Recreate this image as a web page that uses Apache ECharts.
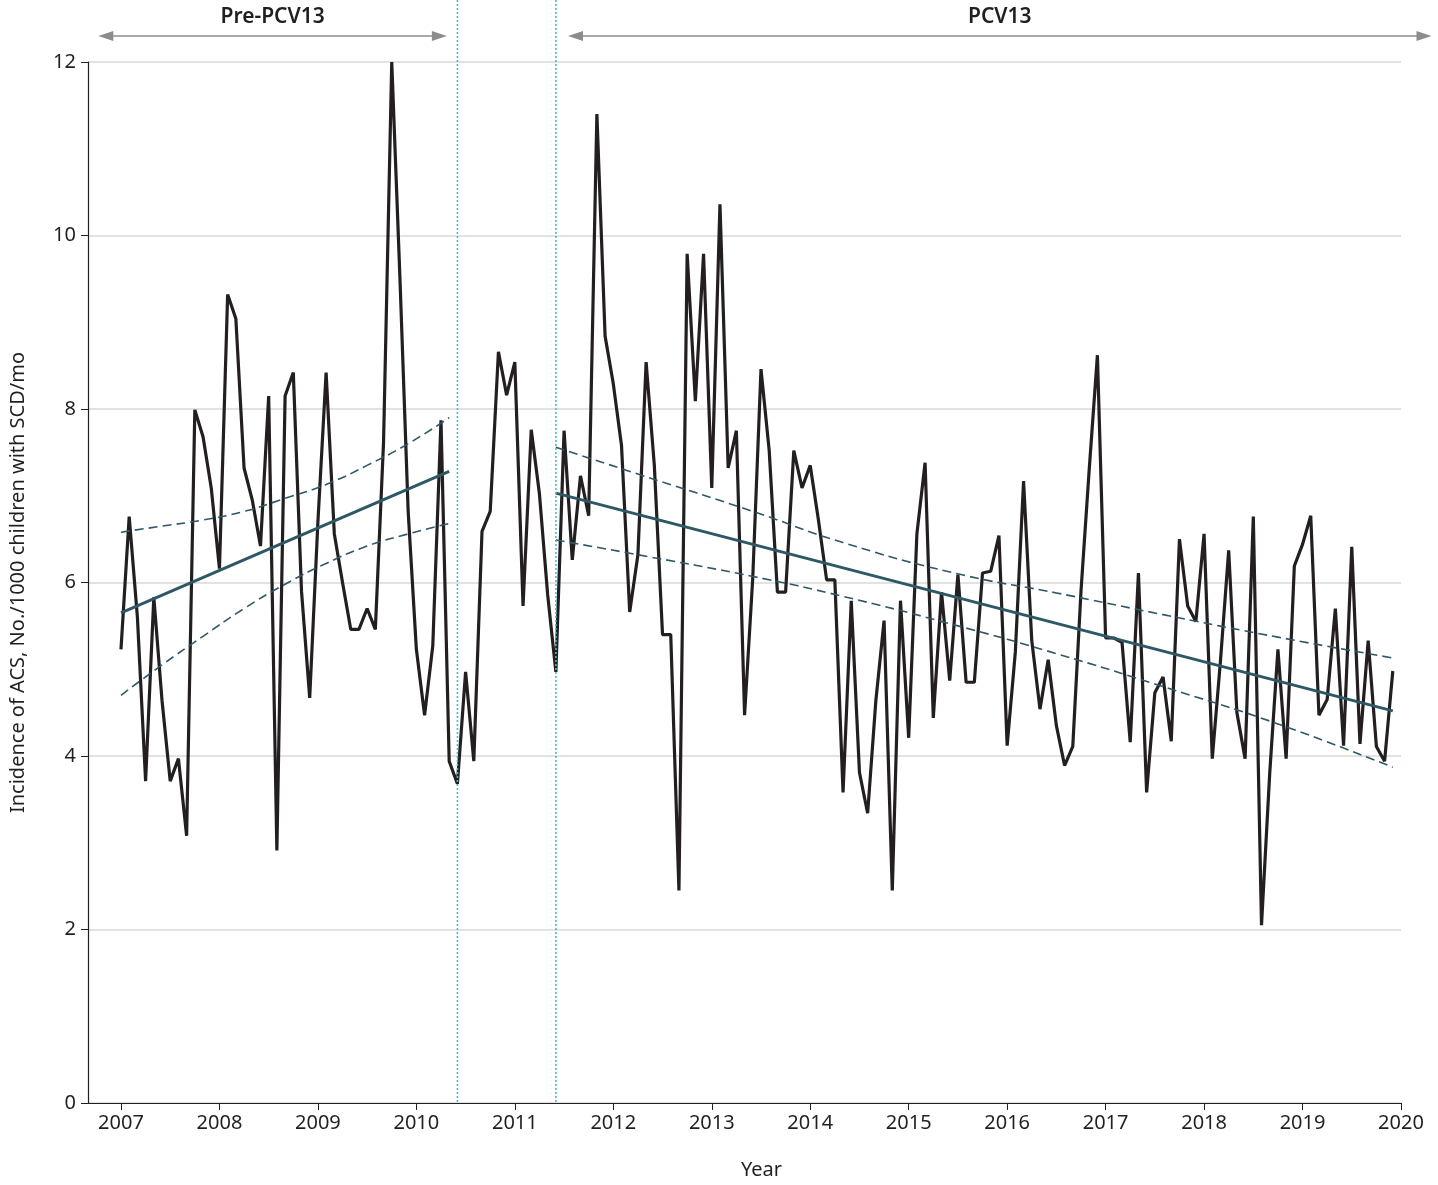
<!DOCTYPE html>
<html>
<head>
<meta charset="utf-8">
<script src="https://cdn.jsdelivr.net/npm/echarts@6/dist/echarts.min.js"></script>
<style>
  html, body { margin: 0; background: #fff; }
  #main { width: 1438px; height: 1185px; }
</style>
</head>
<body>
<div id="main"></div>
<script>
// monthly series, Jan 2007 .. Dec 2019
var startYear = 2007;
var incidence = [
  5.23, 6.76, 5.6, 3.71, 5.83, 4.64, 3.71, 3.97, 3.08, 7.99, 7.68, 7.09,
  6.16, 9.32, 9.04, 7.32, 6.95, 6.42, 8.15, 2.91, 8.15, 8.42, 5.9, 4.67,
  6.7, 8.42, 6.56, 6.0, 5.46, 5.46, 5.70, 5.46, 7.62, 12.0, 9.5, 6.82,
  5.23, 4.47, 5.27, 7.87, 3.94, 3.68, 4.97, 3.94, 6.59, 6.82, 8.66, 8.16,
  8.54, 5.73, 7.76, 7.02, 5.86, 4.97, 7.75, 6.26, 7.23, 6.77, 11.40, 8.84,
  8.29, 7.58, 5.66, 6.32, 8.54, 7.35, 5.40, 5.40, 2.45, 9.79, 8.09, 9.79,
  7.09, 10.36, 7.32, 7.75, 4.47, 6.06, 8.46, 7.52, 5.89, 5.89, 7.52, 7.09,
  7.35, 6.72, 6.03, 6.03, 3.58, 5.79, 3.81, 3.34, 4.64, 5.56, 2.45, 5.79,
  4.21, 6.56, 7.38, 4.44, 5.89, 4.87, 6.09, 4.85, 4.85, 6.11, 6.13, 6.54,
  4.12, 5.20, 7.17, 5.33, 4.54, 5.11, 4.35, 3.89, 4.11, 5.9, 7.3, 8.62,
  5.36, 5.36, 5.31, 4.16, 6.11, 3.58, 4.73, 4.91, 4.17, 6.50, 5.73, 5.55,
  6.56, 3.97, 5.10, 6.37, 4.50, 3.97, 6.76, 2.05, 3.8, 5.23, 3.97, 6.19,
  6.44, 6.77, 4.47, 4.65, 5.70, 4.12, 6.41, 4.14, 5.33, 4.11, 3.94, 4.98
];

// fitted trends (month index, value)
var preTrendMonths = [0, 40];
var preTrend = [5.65, 7.28];
var postTrendMonths = [53, 155];
var postTrend = [7.03, 4.52];

// confidence bands
var preCiMonths = [0, 5, 10, 15, 20, 25, 30, 35, 40];
var preUpper = [6.58, 6.65, 6.72, 6.82, 6.97, 7.13, 7.35, 7.6, 7.9];
var preLower = [4.70, 5.05, 5.38, 5.70, 5.98, 6.22, 6.42, 6.56, 6.68];
var postCiMonths = [53, 63, 77, 88, 102, 114, 127, 141, 155];
var postUpper = [7.56, 7.25, 6.82, 6.46, 6.10, 5.88, 5.63, 5.37, 5.13];
var postLower = [6.49, 6.32, 6.07, 5.84, 5.50, 5.18, 4.80, 4.37, 3.87];

// period markers / top labels
var yearTicks = [2007, 2008, 2009, 2010, 2011, 2012, 2013, 2014, 2015, 2016, 2017, 2018, 2019, 2020];
var breakYears = [2010.417, 2011.417];
var periodNames = ['Pre-PCV13', 'PCV13'];
var periodRanges = [[2006.77, 2010.31], [2011.54, 2020.31]];

function toYear(m) { return startYear + m / 12; }
function pairs(months, vals) {
  return months.map(function (m, i) { return [toYear(m), vals[i]]; });
}

var trendColor = '#2e5865';
var myChart = echarts.init(document.getElementById('main'));

var option = {
  animation: false,
  backgroundColor: '#fff',
  textStyle: { fontFamily: 'Noto Sans' },
  grid: { left: 88, right: 37, top: 62, bottom: 82 },
  xAxis: {
    type: 'value',
    min: 2006.665,
    max: 2020,
    name: 'Year',
    nameLocation: 'middle',
    nameGap: 57,
    nameTextStyle: { fontSize: 20, color: '#231f20', padding: [0, 0, 0, 34] },
    axisLine: { lineStyle: { color: '#231f20', width: 1.2 } },
    axisTick: { customValues: yearTicks, length: 7, lineStyle: { color: '#231f20' } },
    axisLabel: {
      customValues: yearTicks, fontSize: 20, color: '#231f20', margin: 10,
      formatter: function (v) { return String(Math.round(v)); }
    },
    splitLine: { show: false }
  },
  yAxis: {
    type: 'value',
    min: 0,
    max: 12,
    interval: 2,
    name: 'Incidence of ACS, No./1000 children with SCD/mo',
    nameLocation: 'middle',
    nameGap: 60,
    nameTextStyle: { fontSize: 20, color: '#231f20' },
    axisLine: { show: true, lineStyle: { color: '#231f20', width: 1.2 } },
    axisTick: { show: true, length: 7, lineStyle: { color: '#231f20' } },
    axisLabel: { fontSize: 20, color: '#231f20', margin: 12 },
    splitLine: { lineStyle: { color: '#d9d9d9', width: 1.5 } }
  },
  series: [
    {
      type: 'line',
      showSymbol: false,
      data: incidence.map(function (v, i) { return [toYear(i), v]; }),
      lineStyle: { color: '#231f20', width: 3.2 },
      z: 2
    },
    {
      type: 'line', showSymbol: false,
      data: pairs(preTrendMonths, preTrend),
      lineStyle: { color: trendColor, width: 3 }, z: 3
    },
    {
      type: 'line', showSymbol: false,
      data: pairs(postTrendMonths, postTrend),
      lineStyle: { color: trendColor, width: 3 }, z: 3
    },
    {
      type: 'line', showSymbol: false, smooth: true,
      data: pairs(preCiMonths, preUpper),
      lineStyle: { color: trendColor, width: 1.6, type: [9, 5] }, z: 3
    },
    {
      type: 'line', showSymbol: false, smooth: true,
      data: pairs(preCiMonths, preLower),
      lineStyle: { color: trendColor, width: 1.6, type: [9, 5] }, z: 3
    },
    {
      type: 'line', showSymbol: false, smooth: true,
      data: pairs(postCiMonths, postUpper),
      lineStyle: { color: trendColor, width: 1.6, type: [9, 5] }, z: 3
    },
    {
      type: 'line', showSymbol: false, smooth: true,
      data: pairs(postCiMonths, postLower),
      lineStyle: { color: trendColor, width: 1.6, type: [9, 5] }, z: 3
    }
  ]
};
myChart.setOption(option);

// annotations above the plot
var bottomY = myChart.convertToPixel({ xAxisIndex: 0, yAxisIndex: 0 }, [2007, 0])[1];
var arrowY = 36, labelY = 17, grey = '#8c8c8c';
var els = [];
breakYears.forEach(function (yr) {
  var x = myChart.convertToPixel({ xAxisIndex: 0, yAxisIndex: 0 }, [yr, 0])[0];
  els.push({
    type: 'line', z: 10,
    shape: { x1: x, y1: 0, x2: x, y2: bottomY },
    style: { stroke: '#45bcd4', lineWidth: 1.6, lineDash: [2, 2] }
  });
});
periodRanges.forEach(function (r, i) {
  var x1 = myChart.convertToPixel({ xAxisIndex: 0, yAxisIndex: 0 }, [r[0], 0])[0];
  var x2 = myChart.convertToPixel({ xAxisIndex: 0, yAxisIndex: 0 }, [r[1], 0])[0];
  els.push({
    type: 'line', z: 10,
    shape: { x1: x1 + 4, y1: arrowY, x2: x2 - 4, y2: arrowY },
    style: { stroke: grey, lineWidth: 1.5 }
  });
  els.push({
    type: 'polygon', z: 10,
    shape: { points: [[x1, arrowY], [x1 + 15, arrowY - 5], [x1 + 15, arrowY + 5]] },
    style: { fill: grey }
  });
  els.push({
    type: 'polygon', z: 10,
    shape: { points: [[x2, arrowY], [x2 - 15, arrowY - 5], [x2 - 15, arrowY + 5]] },
    style: { fill: grey }
  });
  els.push({
    type: 'text', z: 10,
    x: (x1 + x2) / 2, y: labelY,
    style: {
      text: periodNames[i], font: '600 21px "Noto Sans"', fill: '#231f20',
      align: 'center', verticalAlign: 'middle',
      textAlign: 'center', textVerticalAlign: 'middle'
    }
  });
});
myChart.setOption({ graphic: els });
</script>
</body>
</html>
